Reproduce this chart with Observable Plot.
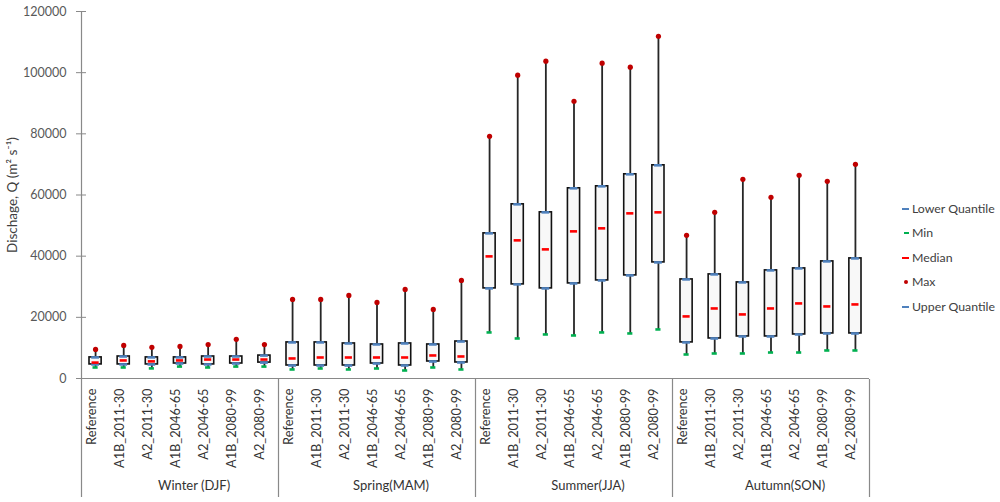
<!DOCTYPE html>
<html>
<head>
<meta charset="utf-8">
<script src="https://cdn.jsdelivr.net/npm/d3@7"></script>
<script src="https://cdn.jsdelivr.net/npm/@observablehq/plot@0.6"></script>
<style>
  html, body { margin: 0; padding: 0; background: #fff; }
  #wrap { position: relative; width: 1000px; height: 502px; font-family: Lato, "Open Sans", sans-serif; }
  #legend { position: absolute; left: 0; top: 0; width: 1000px; height: 502px; pointer-events: none; }
  .lg { position: absolute; left: 912px; font-size: 12.3px; color: #404040; line-height: 14px; white-space: nowrap; }
  .sym { position: absolute; }
</style>
</head>
<body>
<div id="wrap"><div id="legend"></div></div>
<script>
const seasons = ["Winter (DJF)", "Spring(MAM)", "Summer(JJA)", "Autumn(SON)"];
const scenarios = ["Reference", "A1B_2011-30", "A2_2011-30", "A1B_2046-65", "A2_2046-65", "A1B_2080-99", "A2_2080-99"];
const yTicks = [0, 20000, 40000, 60000, 80000, 100000, 120000];

// per season, 7 scenarios each
const minVals = [
  [3600, 3600, 3300, 3900, 3600, 3900, 3900],
  [2950, 3270, 2950, 3270, 2620, 3600, 2950],
  [15060, 13090, 14400, 14070, 15060, 14730, 16040],
  [7850, 8180, 8180, 8500, 8500, 9160, 9160]
];
const lowerQ = [
  [4600, 4600, 4600, 4900, 4600, 4900, 5200],
  [4250, 4250, 4250, 4900, 4250, 5560, 5240],
  [29460, 30770, 29460, 31090, 32070, 33710, 37960],
  [11800, 13090, 13750, 13750, 14400, 14730, 14730]
];
const medians = [
  [5200, 5900, 5600, 5900, 6200, 6200, 6200],
  [6550, 6870, 6870, 6870, 6870, 7530, 7200],
  [39930, 45170, 42220, 48110, 49100, 54000, 54330],
  [20300, 22900, 20950, 22900, 24550, 23560, 24220]
];
const upperQ = [
  [6900, 7200, 6900, 6900, 7200, 7200, 7500],
  [11800, 11800, 11460, 11130, 11460, 11130, 12100],
  [47460, 56950, 54330, 62190, 62840, 66770, 69710],
  [32400, 34040, 31420, 35350, 36000, 38290, 39270]
];
const maxVals = [
  [9500, 10800, 10200, 10500, 11100, 12800, 11100],
  [25850, 25850, 27170, 24870, 29130, 22580, 32070],
  [79200, 99170, 103760, 90660, 103100, 101800, 111900],
  [46800, 54330, 65130, 59240, 66440, 64480, 70040]
];

const rows = [];
seasons.forEach((s, si) => scenarios.forEach((c, ci) => rows.push({
  key: s + "|" + c, season: s, scenario: c, ci,
  min: minVals[si][ci], lq: lowerQ[si][ci], med: medians[si][ci], uq: upperQ[si][ci], max: maxVals[si][ci]
})));
const keys = rows.map(d => d.key);
const firsts = rows.filter(d => d.ci === 0);
const lasts = rows.filter(d => d.ci === scenarios.length - 1);
const mids = rows.filter(d => d.ci === 3);

const W = 1000, H = 502, mL = 81, mR = 131, mT = 11, mB = 124;
const bw = (W - mL - mR) / keys.length;
const axisGray = "#898989";

const chart = Plot.plot({
  width: W, height: H,
  marginLeft: mL, marginRight: mR, marginTop: mT, marginBottom: mB,
  style: {fontFamily: "Lato, 'Open Sans', sans-serif", fontSize: "12px", background: "white", overflow: "visible"},
  x: {type: "band", domain: keys, padding: 0, round: false, axis: null},
  y: {domain: [0, 120000], ticks: yTicks, label: null, axis: null},
  marks: [
    // y axis ticks (crossing) and labels
    Plot.axisY({ticks: yTicks, tickSize: 10, dx: 5, text: null, stroke: axisGray, strokeWidth: 1}),
    Plot.axisY({ticks: yTicks, tickSize: 0, tickPadding: 15, tickFormat: d3.format("d"), fill: "#595959", fontSize: 12.5}),
    // y axis title
    Plot.text(["Dischage, Q (m\u00B2 s\u207B\u00B9)"], {frameAnchor: "left", textAnchor: "middle", dx: -69, rotate: -90, fill: "#404040", fontSize: 13.5}),
    // baseline of category axis
    Plot.ruleY([0], {stroke: axisGray, strokeWidth: 1.2}),
    // y axis line (left edge)
    Plot.ruleX(firsts.slice(0, 1), {x: "key", dx: -bw / 2, insetBottom: -119, stroke: axisGray, strokeWidth: 1.2}),
    // group dividers
    Plot.ruleX(firsts.slice(1), {x: "key", dx: -bw / 2, insetTop: 368, insetBottom: -119, stroke: axisGray, strokeWidth: 1.2}),
    Plot.ruleX(lasts.slice(-1), {x: "key", dx: bw / 2, insetTop: 368, insetBottom: -119, stroke: axisGray, strokeWidth: 1.2}),
    // whiskers
    Plot.ruleX(rows, {x: "key", y1: "min", y2: "max", stroke: "#262626", strokeWidth: 1.8}),
    // boxes
    Plot.barY(rows, {x: "key", y1: "lq", y2: "uq", fill: "#f8f8f8", stroke: "#111", strokeWidth: 1.6, insetLeft: 8, insetRight: 8}),
    // markers
    Plot.tickY(rows, {x: "key", y: "lq", stroke: "#4f81bd", strokeWidth: 2.6, insetLeft: 10.2, insetRight: 10.2}),
    Plot.tickY(rows, {x: "key", y: "uq", stroke: "#4f81bd", strokeWidth: 2.6, insetLeft: 10.2, insetRight: 10.2}),
    Plot.tickY(rows, {x: "key", y: "med", stroke: "#ff0000", strokeWidth: 2.6, insetLeft: 10.5, insetRight: 10.5}),
    Plot.tickY(rows, {x: "key", y: "min", stroke: "#00b050", strokeWidth: 2.6, insetLeft: 11.5, insetRight: 11.5}),
    Plot.dot(rows, {x: "key", y: "max", r: 2.6, fill: "#c00000", stroke: "none"}),
    // category labels
    Plot.text(rows, {x: "key", text: "scenario", frameAnchor: "bottom", dy: 10, rotate: -90, textAnchor: "end", fill: "#333", fontSize: 12.8}),
    Plot.text(mids, {x: "key", text: "season", frameAnchor: "bottom", dx: bw / 2, dy: 111, fill: "#333", fontSize: 13})
  ]
});
const wrap = document.getElementById("wrap");
wrap.insertBefore(chart, wrap.firstChild);

// legend
const legendItems = [
  {label: "Lower Quantile", color: "#4f81bd", kind: "dash", w: 7},
  {label: "Min", color: "#00b050", kind: "dash", w: 5},
  {label: "Median", color: "#ff0000", kind: "dash", w: 7},
  {label: "Max", color: "#c00000", kind: "dot", w: 4},
  {label: "Upper Quantile", color: "#4f81bd", kind: "dash", w: 7}
];
const legendY = [209, 233, 258, 282, 307];
const lg = document.getElementById("legend");
legendItems.forEach((it, i) => {
  const cy = legendY[i];
  const sym = document.createElement("div");
  sym.className = "sym";
  if (it.kind === "dash") {
    sym.style.left = (909 - it.w) + "px";
    sym.style.top = (cy - 1.25) + "px";
    sym.style.width = it.w + "px";
    sym.style.height = "2.5px";
    sym.style.background = it.color;
  } else {
    sym.style.left = "903.5px";
    sym.style.top = (cy - 2) + "px";
    sym.style.width = "4px";
    sym.style.height = "4px";
    sym.style.borderRadius = "50%";
    sym.style.background = it.color;
  }
  lg.appendChild(sym);
  const t = document.createElement("div");
  t.className = "lg";
  t.style.top = (cy - 7) + "px";
  t.textContent = it.label;
  lg.appendChild(t);
});
</script>
</body>
</html>
